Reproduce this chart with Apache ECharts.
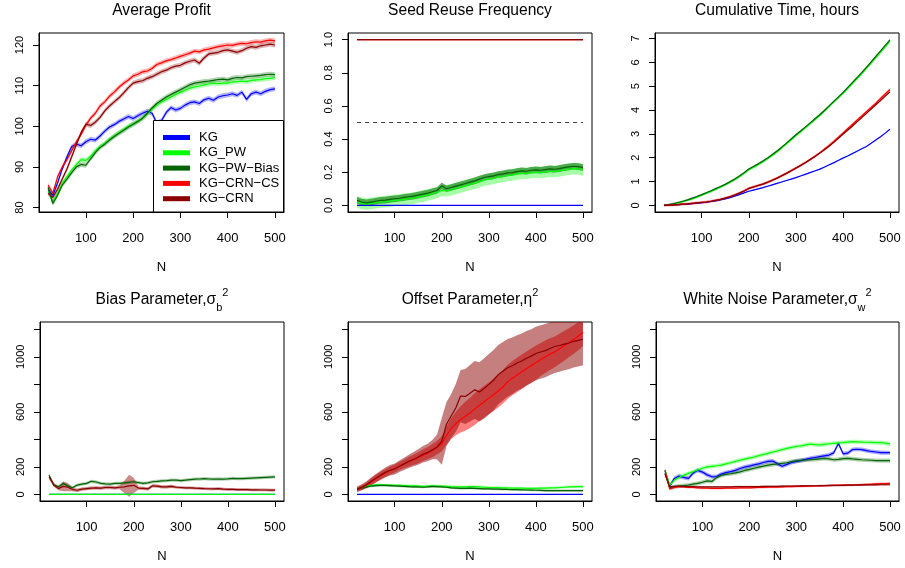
<!DOCTYPE html>
<html><head><meta charset="utf-8">
<script src="https://cdn.jsdelivr.net/npm/echarts@6/dist/echarts.min.js"></script>
<style>html,body{margin:0;padding:0;background:#fff}#c{width:905px;height:568px}</style>
</head><body><div id="c"></div><script>
// ---------------- DATA ----------------
const N = [20,30,40,50,60,70,80,90,100,110,120,130,140,150,160,170,180,190,200,210,220,230,240,250,260,270,280,290,300,310,320,330,340,350,360,370,380,390,400,410,420,430,440,450,460,470,480,490,500];
const X_TICKS = [100,200,300,400,500];
const profit_ticks = [80,90,100,110,120];
const seed_ticks = [0,0.2,0.4,0.6,0.8,1.0];
const time_ticks = [0,1,2,3,4,5,6,7];
const param_ticks = [0,200,400,600,800,1000,1200];
const param_labels = [0,200,600,1000];
const SERIES_NAMES = ['KG','KG_PW','KG\u2212PW\u2212Bias','KG\u2212CRN\u2212CS','KG\u2212CRN'];

// Average Profit
const profit_KG = [84.5,83.0,86.0,89.5,92.5,95.0,95.6,95.2,96.2,96.8, 96.6,97.6,98.8,99.8,100.4,101.2,101.8,102.4,101.9,102.6, 103.2,103.7,103.2,100.8,101.4,103.4,104.6,104.0,104.4,105.2, 105.8,106.0,105.6,106.5,106.9,106.4,107.2,107.5,107.7,108.0, 107.6,108.4,106.6,108.0,108.4,108.0,108.6,109.0,109.2];
const profit_KG_PW = [84.0,81.5,83.5,86.0,87.6,89.2,90.6,91.8,91.6,92.6, 94.0,95.0,95.8,96.8,97.6,98.4,99.2,100.0,100.6,101.2, 102.0,103.0,104.2,105.2,106.0,106.6,107.2,107.8,108.4,108.8, 109.4,109.7,109.9,110.2,110.4,110.6,110.5,110.6,110.6,110.9, 111.0,111.1,111.0,111.3,111.4,111.5,111.7,111.8,112.0];
const profit_KG_PW_Bias = [85.0,81.0,83.0,85.5,87.0,88.6,90.0,90.6,90.4,92.0, 93.5,94.8,95.6,96.6,97.5,98.3,99.0,99.8,100.5,101.2, 102.0,103.2,104.5,105.6,106.4,107.2,107.8,108.4,109.0,109.6, 110.2,110.6,110.8,111.0,111.1,111.3,111.5,111.6,111.4,111.8, 112.0,111.9,112.2,112.3,112.4,112.5,112.7,112.8,112.7];
const profit_KG_CRN_CS = [85.5,83.5,87.5,90.0,91.8,94.0,96.2,98.0,100.3,102.0, 103.2,105.0,106.0,107.4,108.4,109.6,110.6,111.4,112.4,112.8, 113.4,113.6,114.2,115.2,115.6,116.1,116.4,116.8,117.2,117.6, 118.0,118.5,118.3,118.8,119.0,119.3,119.6,119.8,120.0,119.9, 120.2,120.4,120.3,120.6,120.8,120.7,121.0,121.2,121.0];
const profit_KG_CRN = [83.5,82.5,84.5,87.0,89.5,92.5,95.5,98.5,100.5,100.2, 101.0,102.2,103.8,105.0,106.0,107.0,108.2,109.5,110.6,111.0, 111.2,111.8,112.2,112.8,113.4,113.8,114.4,114.8,115.0,115.6, 116.0,116.3,115.5,116.8,117.8,118.0,118.2,118.6,118.8,118.5, 118.2,118.6,119.2,119.6,119.4,119.8,120.0,120.2,120.0];

// Seed Reuse Frequency
const seed_KG = [0,0,0,0,0,0,0,0,0,0, 0,0,0,0,0,0,0,0,0,0, 0,0,0,0,0,0,0,0,0,0, 0,0,0,0,0,0,0,0,0,0, 0,0,0,0,0,0,0,0,0];
const seed_KG_PW = [0.02,0.012,0.008,0.012,0.016,0.02,0.022,0.026,0.03,0.032, 0.036,0.04,0.044,0.05,0.056,0.062,0.07,0.078,0.09,0.088, 0.094,0.102,0.11,0.118,0.126,0.134,0.142,0.152,0.158,0.162, 0.17,0.174,0.18,0.184,0.19,0.194,0.192,0.198,0.2,0.198, 0.202,0.206,0.204,0.208,0.214,0.218,0.222,0.22,0.214];
const seed_KG_PW_Bias = [0.03,0.02,0.015,0.02,0.025,0.03,0.032,0.036,0.04,0.043, 0.048,0.052,0.056,0.062,0.068,0.074,0.082,0.09,0.118,0.1, 0.108,0.116,0.124,0.132,0.14,0.148,0.158,0.168,0.174,0.178, 0.186,0.19,0.196,0.198,0.204,0.208,0.206,0.212,0.214,0.212, 0.216,0.22,0.218,0.222,0.228,0.232,0.236,0.234,0.228];
const seed_KG_CRN_CS = [1,1,1,1,1,1,1,1,1,1, 1,1,1,1,1,1,1,1,1,1, 1,1,1,1,1,1,1,1,1,1, 1,1,1,1,1,1,1,1,1,1, 1,1,1,1,1,1,1,1,1];
const seed_KG_CRN = [1,1,1,1,1,1,1,1,1,1, 1,1,1,1,1,1,1,1,1,1, 1,1,1,1,1,1,1,1,1,1, 1,1,1,1,1,1,1,1,1,1, 1,1,1,1,1,1,1,1,1];
const seed_ref_N = [20, 500];
const seed_ref = [0.5, 0.5];

// Cumulative Time, hours
const time_KG = [0.00,0.01,0.02,0.03,0.04,0.05,0.07,0.09,0.11,0.13, 0.16,0.19,0.23,0.27,0.32,0.38,0.45,0.52,0.59,0.64, 0.69,0.74,0.80,0.86,0.92,0.98,1.04,1.10,1.16,1.23, 1.30,1.37,1.44,1.51,1.60,1.69,1.78,1.88,1.98,2.07, 2.17,2.27,2.37,2.47,2.60,2.74,2.88,3.03,3.19];
const time_KG_PW = [0.00,0.02,0.05,0.10,0.15,0.21,0.27,0.34,0.42,0.50, 0.58,0.67,0.76,0.85,0.96,1.07,1.19,1.33,1.48,1.59, 1.70,1.82,1.95,2.09,2.24,2.40,2.57,2.74,2.92,3.08, 3.24,3.41,3.58,3.75,3.93,4.12,4.31,4.50,4.69,4.89, 5.10,5.31,5.52,5.74,5.97,6.19,6.42,6.65,6.88];
const time_KG_PW_Bias = [0.00,0.03,0.07,0.12,0.17,0.23,0.30,0.37,0.45,0.53, 0.61,0.70,0.79,0.88,0.99,1.10,1.23,1.37,1.52,1.63, 1.74,1.86,1.99,2.13,2.28,2.44,2.61,2.78,2.96,3.12, 3.28,3.45,3.62,3.79,3.97,4.16,4.35,4.54,4.73,4.94, 5.15,5.36,5.57,5.79,6.02,6.25,6.48,6.71,6.94];
const time_KG_CRN_CS = [0.00,0.01,0.02,0.03,0.05,0.06,0.08,0.10,0.12,0.14, 0.17,0.21,0.25,0.30,0.36,0.43,0.51,0.60,0.71,0.77, 0.83,0.89,0.97,1.05,1.14,1.24,1.34,1.45,1.56,1.67, 1.79,1.92,2.05,2.19,2.34,2.50,2.67,2.85,3.03,3.21, 3.39,3.57,3.75,3.93,4.11,4.29,4.48,4.67,4.86];
const time_KG_CRN = [0.00,0.01,0.02,0.03,0.05,0.06,0.08,0.10,0.12,0.14, 0.17,0.21,0.25,0.30,0.36,0.43,0.51,0.60,0.71,0.77, 0.83,0.89,0.97,1.05,1.14,1.24,1.34,1.45,1.56,1.67, 1.79,1.91,2.04,2.18,2.32,2.47,2.63,2.80,2.98,3.15, 3.32,3.50,3.68,3.86,4.04,4.22,4.40,4.58,4.76];

// Bias Parameter
const bias_KG = [0,0,0,0,0,0,0,0,0,0, 0,0,0,0,0,0,0,0,0,0, 0,0,0,0,0,0,0,0,0,0, 0,0,0,0,0,0,0,0,0,0, 0,0,0,0,0,0,0,0,0];
const bias_KG_PW = [0,0,0,0,0,0,0,0,0,0, 0,0,0,0,0,0,0,0,0,0, 0,0,0,0,0,0,0,0,0,0, 0,0,0,0,0,0,0,0,0,0, 0,0,0,0,0,0,0,0,0];
const bias_KG_PW_Bias = [140,68,56,80,62,48,68,75,80,95, 90,80,76,74,80,80,84,88,92,86, 80,84,92,94,98,100,104,104,100,104, 108,111,112,114,112,111,112,111,113,116, 115,114,116,118,120,122,124,126,128];
const bias_KG_CRN = [128,70,42,58,52,35,30,38,42,45, 48,45,50,50,48,52,55,62,66,46, 44,40,62,60,55,54,58,52,50,48, 47,45,44,42,41,40,42,38,37,36, 35,35,34,33,33,32,32,31,31];
const bias_band_KG_CRN = [20,15,12,35,30,12,12,12,12,12, 12,12,12,12,12,14,45,80,55,12, 12,12,12,12,12,12,12,10,10,10, 10,10,10,10,10,10,10,10,10,10, 10,10,10,10,10,10,10,10,10];

// Offset Parameter
const offset_KG = [0,0,0,0,0,0,0,0,0,0, 0,0,0,0,0,0,0,0,0,0, 0,0,0,0,0,0,0,0,0,0, 0,0,0,0,0,0,0,0,0,0, 0,0,0,0,0,0,0,0,0];
const offset_KG_PW = [40,50,60,66,70,70,68,67,66,65, 64,62,62,60,58,60,62,60,60,58, 56,55,54,55,57,56,54,52,50,50, 49,48,47,46,45,45,44,44,44,45, 46,47,48,50,52,54,55,56,56];
const offset_KG_PW_Bias = [40,45,55,60,64,66,66,64,62,60, 58,56,55,54,52,54,58,56,54,52, 48,46,44,44,45,44,42,40,40,39, 38,37,36,35,34,33,32,31,30,29, 28,28,28,28,28,28,28,28,28];
const offset_KG_CRN_CS = [35,50,66,92,115,135,155,172,188,205, 222,238,251,266,284,300,318,340,368,428, 478,515,545,568,592,620,648,674,698,724, 752,782,818,845,868,891,914,936,957,980, 1000,1020,1036,1058,1080,1102,1125,1150,1178];
const offset_KG_CRN = [38,52,70,95,118,140,160,175,185,205, 222,240,256,272,292,305,325,345,385,510, 570,630,715,712,735,760,745,770,800,830, 870,895,920,935,955,970,990,1005,1024,1035, 1045,1060,1075,1082,1092,1100,1112,1120,1128];
const offset_band_KG_CRN_CS = [15,18,20,25,28,30,30,30,30,30, 32,35,38,40,42,45,48,50,55,65, 75,85,95,105,110,115,115,115,115,118, 120,122,125,125,125,125,125,125,125,120, 118,115,112,110,108,106,104,102,100];
const offset_band_KG_CRN = [20,22,25,28,30,32,35,38,40,42, 45,48,52,56,60,64,70,90,170,160, 160,175,190,200,205,210,215,220,220,220, 215,212,210,205,202,200,198,196,195,195, 194,193,192,191,190,190,190,190,190];

// White Noise Parameter
const noise_KG = [170,60,116,133,124,116,155,175,162,142, 128,130,148,158,165,175,188,198,206,214, 222,232,240,242,222,205,218,232,240,246, 254,262,268,274,280,286,302,370,295,300, 326,328,326,318,312,308,304,303,303];
const noise_KG_PW = [177,68,104,125,138,153,165,177,190,200, 204,208,213,222,230,240,248,256,264,272, 282,290,298,308,316,326,334,342,348,352, 360,366,362,360,364,368,371,374,376,380, 383,382,380,379,378,377,376,372,367];
const noise_KG_PW_Bias = [153,46,56,60,64,68,74,80,88,98, 94,122,138,146,150,156,164,174,182,190, 198,206,213,218,221,226,230,238,244,247, 250,252,255,258,261,258,252,255,260,262, 258,255,252,250,248,246,245,245,245];
const noise_KG_CRN_CS = [177,40,50,56,54,51,50,48,46,45, 44,44,44,45,46,46,47,48,48,49, 50,51,52,52,53,54,56,57,58,59, 60,60,61,61,63,64,65,66,67,68, 68,70,72,73,74,76,78,79,80];
const noise_KG_CRN = [150,55,58,60,58,57,56,55,55,54, 54,54,55,55,55,56,56,56,57,57, 57,58,58,59,59,60,60,61,61,62, 62,63,63,64,64,65,65,66,66,67, 67,68,68,69,69,69,70,70,70];

// ---------------- CHECK ----------------
const _all = {profit_KG,profit_KG_PW,profit_KG_PW_Bias,profit_KG_CRN_CS,profit_KG_CRN,seed_KG,seed_KG_PW,seed_KG_PW_Bias,seed_KG_CRN_CS,seed_KG_CRN,time_KG,time_KG_PW,time_KG_PW_Bias,time_KG_CRN_CS,time_KG_CRN,bias_KG,bias_KG_PW,bias_KG_PW_Bias,bias_KG_CRN,bias_band_KG_CRN,offset_KG,offset_KG_PW,offset_KG_PW_Bias,offset_KG_CRN_CS,offset_KG_CRN,offset_band_KG_CRN_CS,offset_band_KG_CRN,noise_KG,noise_KG_PW,noise_KG_PW_Bias,noise_KG_CRN_CS,noise_KG_CRN};
for (const k in _all) if (_all[k].length !== N.length) throw new Error(k + ' has length ' + _all[k].length);

// ---------------- STYLE ----------------
const FONT = '"Liberation Sans", Arial, Helvetica, sans-serif';
const [S_KG, S_PW, S_PWB, S_CS, S_CRN] = SERIES_NAMES;
const COL = {};
COL[S_KG] = '#0000FF'; COL[S_PW] = '#00FF00'; COL[S_PWB] = '#006400'; COL[S_CS] = '#FF0000'; COL[S_CRN] = '#8B0000';
function rgba(hex, a){
  const r=parseInt(hex.slice(1,3),16), g=parseInt(hex.slice(3,5),16), b=parseInt(hex.slice(5,7),16);
  return 'rgba('+r+','+g+','+b+','+a+')';
}
const TITLE_FS = 15.6;
const RICH = {
  m:{fontSize:TITLE_FS, lineHeight:26, fontFamily:FONT, color:'#000'},
  sub:{fontSize:11, lineHeight:20, verticalAlign:'bottom', fontFamily:FONT, color:'#000'},
  sup:{fontSize:11, lineHeight:11, verticalAlign:'top', fontFamily:FONT, color:'#000'}
};

// panel layout: [left, top, width, height]
const panels = [
  {box:[39,33,245,179], title:'Average Profit', rich:false, yMin:78.9, yMax:122.95, yTicks:profit_ticks, yLabels:profit_ticks, fmt:v=>String(v),
   lines:[[S_KG,profit_KG,0.6,0.3],[S_PW,profit_KG_PW,0.6,0.3],[S_PWB,profit_KG_PW_Bias,0.6,0.3],[S_CS,profit_KG_CRN_CS,0.6,0.3],[S_CRN,profit_KG_CRN,0.6,0.3]]},
  {box:[348,33,244,179], title:'Seed Reuse Frequency', rich:false, yMin:-0.04, yMax:1.04, yTicks:seed_ticks, yLabels:seed_ticks, fmt:v=>v.toFixed(1),
   lines:[[S_KG,seed_KG,0,0],[S_PW,seed_KG_PW,0.035,0.35],[S_PWB,seed_KG_PW_Bias,0.02,0.55],[S_CS,seed_KG_CRN_CS,0.003,0.3],[S_CRN,seed_KG_CRN,0.003,0.3]],
   ref:true},
  {box:[655,33,244,179], title:'Cumulative Time, hours', rich:false, yMin:-0.28, yMax:7.23, yTicks:time_ticks, yLabels:time_ticks, fmt:v=>String(v),
   lines:[[S_KG,time_KG,0.02,0.3],[S_PW,time_KG_PW,0.03,0.3],[S_PWB,time_KG_PW_Bias,0.04,0.3],[S_CS,time_KG_CRN_CS,0.06,0.3],[S_CRN,time_KG_CRN,0.04,0.3]]},
  {box:[40,322,244,179], title:'{m|Bias Parameter,σ}{sub|b}{sup|2}', rich:true, yMin:-48, yMax:1253, yTicks:param_ticks, yLabels:param_labels, fmt:v=>String(v),
   lines:[[S_KG,bias_KG,0,0],[S_PW,bias_KG_PW,0,0],[S_PWB,bias_KG_PW_Bias,12,0.3],[S_CRN,bias_KG_CRN,bias_band_KG_CRN,0.45]]},
  {box:[348,322,244,179], title:'{m|Offset Parameter,η}{sup|2}', rich:true, yMin:-48, yMax:1253, yTicks:param_ticks, yLabels:param_labels, fmt:v=>String(v),
   lines:[[S_KG,offset_KG,0,0],[S_PW,offset_KG_PW,10,0.3],[S_PWB,offset_KG_PW_Bias,8,0.3],[S_CS,offset_KG_CRN_CS,offset_band_KG_CRN_CS,0.5],[S_CRN,offset_KG_CRN,offset_band_KG_CRN,0.5]]},
  {box:[656,322,243,179], title:'{m|White Noise Parameter,σ}{sub|w}{sup|2}', rich:true, yMin:-48, yMax:1253, yTicks:param_ticks, yLabels:param_labels, fmt:v=>String(v),
   lines:[[S_KG,noise_KG,15,0.35],[S_PW,noise_KG_PW,15,0.3],[S_PWB,noise_KG_PW_Bias,15,0.3],[S_CS,noise_KG_CRN_CS,8,0.3],[S_CRN,noise_KG_CRN,6,0.3]]}
];

function bandSeries(gi, xs, lo, hi, color){
  return {
    type:'custom', name:'band', xAxisIndex:gi, yAxisIndex:gi, clip:true, silent:true, z:1,
    data: xs.map((x,i)=>[x, lo[i], hi[i]]),
    encode:{x:0, y:[1,2]},
    renderItem:function(params, api){
      if (params.dataIndex !== 0) return null;
      const pts = [];
      for (let i=0;i<xs.length;i++) pts.push(api.coord([xs[i], hi[i]]));
      for (let i=xs.length-1;i>=0;i--) pts.push(api.coord([xs[i], lo[i]]));
      return {type:'polygon', shape:{points:pts}, style:{fill:color}};
    }
  };
}

const option = {animation:false, backgroundColor:'#fff', grid:[], xAxis:[], yAxis:[], series:[], title:[]};
const xLabelStyle = {color:'#000', fontSize:13, fontFamily:FONT};
const yLabelStyle = {color:'#000', fontSize:11, fontFamily:FONT};

panels.forEach((p, gi)=>{
  const [L,T,W,H] = p.box;
  option.grid.push({left:L, top:T, width:W, height:H, show:true, borderColor:'#000', borderWidth:1, backgroundColor:'rgba(0,0,0,0)'});
  option.xAxis.push({gridIndex:gi, type:'value', min:0.8, max:519.2,
    axisLine:{show:true, onZero:false, lineStyle:{color:'#000', width:1}},
    axisTick:{show:true, length:6, customValues:X_TICKS, lineStyle:{color:'#000', width:1}},
    axisLabel:Object.assign({show:true, margin:19.5, customValues:X_TICKS}, xLabelStyle),
    splitLine:{show:false},
    name:'N', nameLocation:'middle', nameGap:49, nameTextStyle:xLabelStyle});
  option.yAxis.push({gridIndex:gi, type:'value', min:p.yMin, max:p.yMax,
    axisLine:{show:true, onZero:false, lineStyle:{color:'#000', width:1}},
    axisTick:{show:true, length:6, customValues:p.yTicks, lineStyle:{color:'#000', width:1}},
    axisLabel:Object.assign({show:true, margin:14, rotate:90, customValues:p.yLabels, formatter:p.fmt}, yLabelStyle),
    splitLine:{show:false}});
  option.title.push({text:p.title, left:L+W/2, top:p.rich?287:3, textAlign:'center', padding:0,
    textStyle:{fontSize:TITLE_FS, fontWeight:'normal', fontFamily:FONT, color:'#000', lineHeight:p.rich?26:16, rich:p.rich?RICH:undefined}});
  // bands
  p.lines.forEach(([name, vals, hw, a])=>{
    const hwArr = Array.isArray(hw) ? hw : N.map(()=>hw);
    if (!Array.isArray(hw) && !hw) return;
    const lo = vals.map((v,i)=>v - hwArr[i]);
    const hi = vals.map((v,i)=>v + hwArr[i]);
    option.series.push(bandSeries(gi, N, lo, hi, rgba(COL[name], a)));
  });
  // lines
  p.lines.forEach(([name, vals])=>{
    option.series.push({type:'line', name:name, xAxisIndex:gi, yAxisIndex:gi, data:N.map((x,i)=>[x, vals[i]]),
      showSymbol:false, symbol:'none', color:COL[name], itemStyle:{color:COL[name]},
      lineStyle:{width:1.2, color:COL[name]}, z:2, silent:true});
  });
  if (p.ref){
    option.series.push({type:'line', name:'ref', xAxisIndex:gi, yAxisIndex:gi, data:seed_ref_N.map((x,i)=>[x, seed_ref[i]]),
      showSymbol:false, symbol:'none', lineStyle:{width:1, color:'#404040', type:[4,4]}, z:2, silent:true});
  }
});

option.legend = {show:true, orient:'vertical', left:163, top:130, data:SERIES_NAMES, icon:'rect', itemWidth:27, itemHeight:5,
  itemGap:0.3, padding:0, selectedMode:false, z:5,
  textStyle:{color:'#000', fontSize:13, fontFamily:FONT, lineHeight:15, padding:[0,0,0,4]}};
option.graphic = {elements:[{type:'rect', z:3, shape:{x:153.5, y:120.5, width:130, height:91.5}, style:{fill:'#fff', stroke:'#000', lineWidth:1}}]};

const chart = echarts.init(document.getElementById('c'), null, {renderer:'canvas'});
chart.setOption(option);
</script></body></html>
